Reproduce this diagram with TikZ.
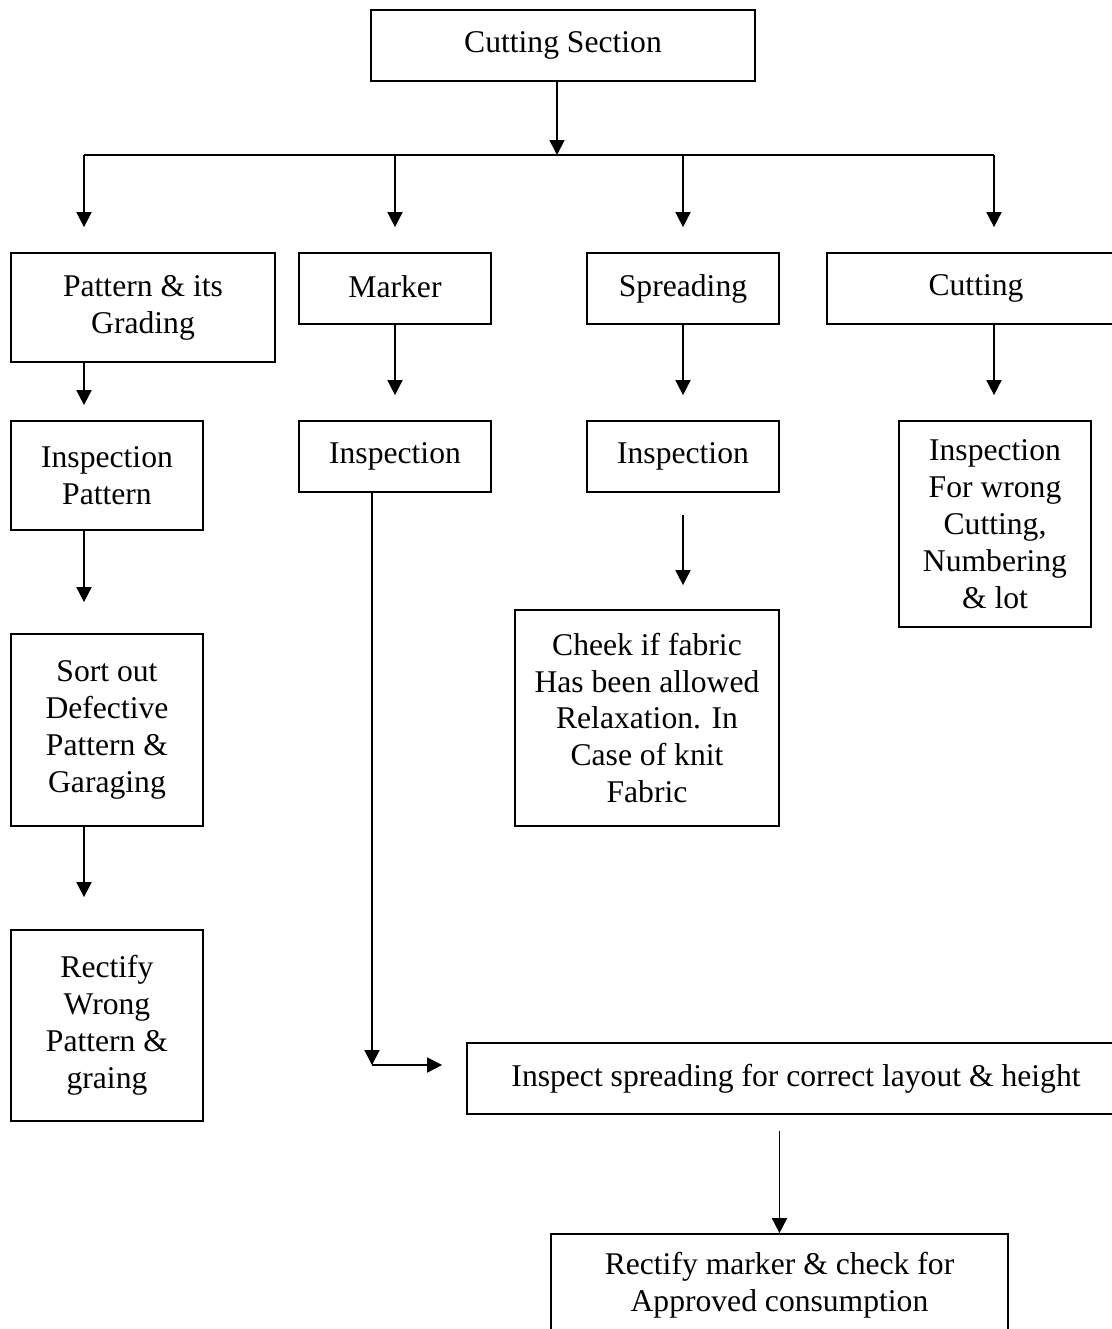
\documentclass[tikz,border=0pt]{standalone}
\usepackage{fontspec}
\setmainfont{Liberation Serif}
\usetikzlibrary{arrows.meta}

\newcommand{\px}{0.02cm}
\tikzset{
  box/.style={draw, line width=1pt, align=center, inner sep=2pt,
    font=\fontsize{18}{21}\selectfont},
  sz/.style 2 args={minimum width=#1*\px, minimum height=#2*\px},
  arr/.style={line width=1pt, -{Triangle[length=15*\px, width=15*\px]}}
}

\begin{document}
\begin{tikzpicture}[x=\px, y=-\px]
\useasboundingbox (0,0) rectangle (1112,1329);

% boxes
\node[box, sz={384}{71}] (sec) at (563,45.5) {Cutting Section};

\node[box, sz={264}{109}] (pat) at (143,307.5) {Pattern \& its\\ Grading};
\node[box, sz={192}{71}, text depth=0.25em] (mark) at (395,288.5) {Marker};
\node[box, sz={192}{71}] (spread) at (683,288.5) {Spreading};
\node[box, sz={298}{71}] (cut) at (976,288.5) {Cutting};

\node[box, sz={192}{109}] (ipat) at (107,475.5) {Inspection\\ Pattern};
\node[box, sz={192}{71}] (imark) at (395,456.5) {Inspection};
\node[box, sz={192}{71}] (ispread) at (683,456.5) {Inspection};
\node[box, sz={192}{206}] (icut) at (995,524) {Inspection\\ For wrong\\ Cutting,\\ Numbering\\ \& lot};

\node[box, sz={192}{192}] (sort) at (107,730) {Sort out\\ Defective\\ Pattern \&\\ Garaging};
\node[box, sz={264}{216}] (cheek) at (647,718) {Cheek if fabric\\ Has been allowed\\ Relaxation. In\\ Case of knit\\ Fabric};
\node[box, sz={192}{191}] (rect) at (107,1025.5) {Rectify\\ Wrong\\ Pattern \&\\ graing};

\node[box, sz={658}{71}] (ilay) at (796,1078.5) {Inspect spreading for correct layout \& height};
\node[box, sz={457}{102}] (rmark) at (779.5,1285) {Rectify marker \& check for\\ Approved consumption};

% bus
\coordinate (j) at (557,155);
\coordinate (c1) at (84,155);
\coordinate (c2) at (395,155);
\coordinate (c3) at (683,155);
\coordinate (c4) at (994,155);
\coordinate (bend) at (372,1065);

\draw[arr] (j |- sec.south) -- (j);
\draw[line width=1pt] (c1) -- (c4);
\foreach \c/\n in {c1/pat, c2/mark, c3/spread, c4/cut}
  \draw[arr, shorten >=25*\px] (\c) -- (\c |- \n.north);

% columns
\draw[arr, shorten >=15*\px] (c1 |- pat.south) -- (c1 |- ipat.north);
\draw[arr, shorten >=31*\px] (c1 |- ipat.south) -- (c1 |- sort.north);
\draw[arr, shorten >=32*\px] (c1 |- sort.south) -- (c1 |- rect.north);

\draw[arr, shorten >=25*\px] (mark.south) -- (imark.north);
\draw[arr, shorten >=25*\px] (spread.south) -- (ispread.north);
\draw[arr, shorten >=25*\px] (c4 |- cut.south) -- (c4 |- icut.north);

\draw[arr, shorten <=22*\px, shorten >=24*\px] (ispread.south) -- (ispread.south |- cheek.north);

\draw[arr] (imark.south -| bend) -- (bend);
\draw[arr, shorten >=24*\px] (bend) -- (bend -| ilay.west);

\draw[arr, shorten <=16*\px] (rmark.north |- ilay.south) -- (rmark.north);

\end{tikzpicture}
\end{document}
